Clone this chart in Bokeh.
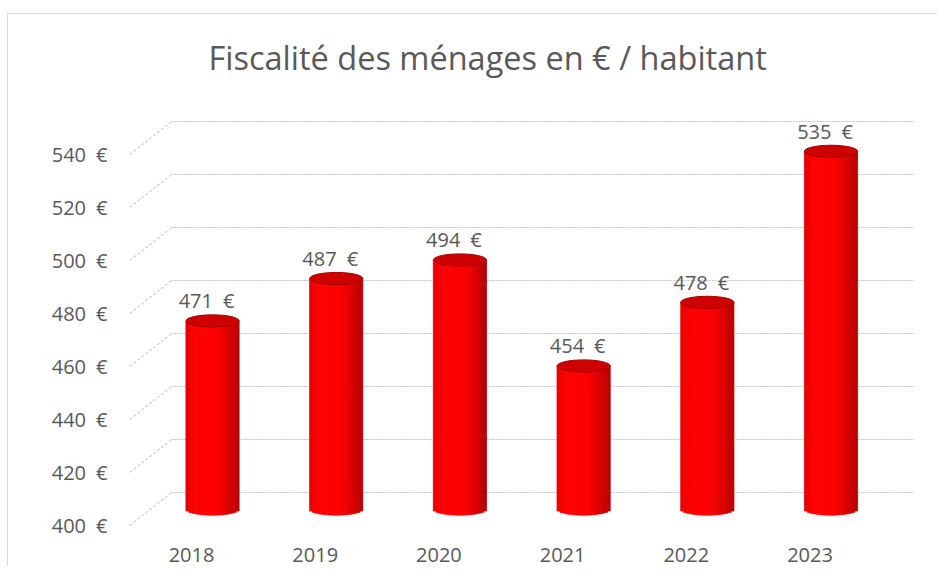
import numpy as np
from bokeh.plotting import figure
from bokeh.models import Range1d, FixedTicker, PrintfTickFormatter
from bokeh.core.properties import value
from bokeh.embed import file_html
from bokeh.resources import INLINE

# ---- data ----
years = ["2018", "2019", "2020", "2021", "2022", "2023"]
values = [471, 487, 494, 454, 478, 535]
y_ticks = [400, 420, 440, 460, 480, 500, 520, 540]
y_base = 400
title_text = "Fiscalité des ménages en € / habitant"

# ---- 3D look (style constants) ----
mid_dx, mid_dy = 0.17, 6.2      # bar plane offset from the front plane
back_dx, back_dy = 0.34, 12.45  # back wall offset from the front plane
bar_w = 0.43
ell_h = 4.6
n_strips = 18
TXT = "#595959"
FONT = "Open Sans"

x_idx = np.arange(len(years))

p = figure(frame_width=800, frame_height=431,
           x_range=Range1d(-0.5012, 5.966), y_range=Range1d(399.245, 561.89),
           output_backend="svg", toolbar_location=None,
           min_border_left=121, min_border_right=8, min_border_top=82, min_border_bottom=39,
           title=title_text, background_fill_color="white", border_fill_color="white",
           outline_line_color=None)
p.styles = {"border-top": "1px solid #d9d9d9", "border-left": "1px solid #d9d9d9"}
p.margin = (13, 0, 0, 7)

p.title.align = "left"
p.title.offset = 79
p.title.standoff = 33
p.title.text_font = FONT
p.title.text_font_size = "32.5px"
p.title.text_font_style = "normal"
p.title.text_color = TXT

# back-wall gridlines and side diagonals
n_t = len(y_ticks)
x_left = float(x_idx[0]) - 0.5
x_right = float(x_idx[-1]) + 0.5
p.segment(x0=[x_left + back_dx] * n_t, y0=[t + back_dy for t in y_ticks],
          x1=[x_right + back_dx] * n_t, y1=[t + back_dy for t in y_ticks],
          line_color="#c4c4c4", line_width=1.2, line_dash="2 1")
p.segment(x0=[x_left] * n_t, y0=y_ticks,
          x1=[x_left + back_dx] * n_t, y1=[t + back_dy for t in y_ticks],
          line_color="#d0d0d0", line_width=1.2, line_dash="3 2")

# cylinder bodies drawn as shaded vertical strips
def shade(u):
    b = 0.72 + 0.28 * np.cos((u + 0.25) * 1.35)
    r = int(round(255 * min(1.0, b * 1.03)))
    return "#%02x0000" % r

L, R, B, T, C = [], [], [], [], []
for i, v in zip(x_idx, values):
    cx = i + mid_dx
    for k in range(n_strips):
        ul = -1 + 2 * k / n_strips
        ur = -1 + 2 * (k + 1) / n_strips
        uc = (ul + ur) / 2
        L.append(cx + ul * bar_w / 2)
        R.append(cx + ur * bar_w / 2)
        B.append(y_base + mid_dy - (ell_h / 2) * np.sqrt(max(0.0, 1 - uc * uc)))
        T.append(v + mid_dy)
        C.append(shade(uc))
p.quad(left=L, right=R, bottom=B, top=T, fill_color=C, line_color=C, line_width=0.8)

# cylinder tops
p.ellipse(x=x_idx + mid_dx, y=[v + mid_dy for v in values], width=bar_w, height=ell_h,
          fill_color="#cf0000", line_color="#a00000", line_width=1)

# value labels
p.text(x=x_idx + mid_dx, y=[v + mid_dy for v in values],
       text=[f"{v}\u2002€" for v in values], x_offset=-6, y_offset=-20,
       text_align="center", text_baseline="middle",
       text_font=value(FONT), text_font_size="20px", text_color=TXT)

# axes
p.xgrid.visible = False
p.ygrid.visible = False
p.yaxis.ticker = FixedTicker(ticks=y_ticks)
p.yaxis.formatter = PrintfTickFormatter(format="%d\u2002€")
p.xaxis.ticker = FixedTicker(ticks=[int(i) for i in x_idx])
p.xaxis.major_label_overrides = {int(i): y for i, y in zip(x_idx, years)}
for ax in (p.xaxis[0], p.yaxis[0]):
    ax.axis_line_color = None
    ax.major_tick_line_color = None
    ax.minor_tick_line_color = None
    ax.major_tick_out = 0
    ax.major_tick_in = 0
    ax.minor_tick_out = 0
    ax.major_label_text_font = FONT
    ax.major_label_text_font_size = "20px"
    ax.major_label_text_color = TXT
p.xaxis.major_label_standoff = 20
p.yaxis.major_label_standoff = 22

open("out.html", "w").write(file_html(p, INLINE))
